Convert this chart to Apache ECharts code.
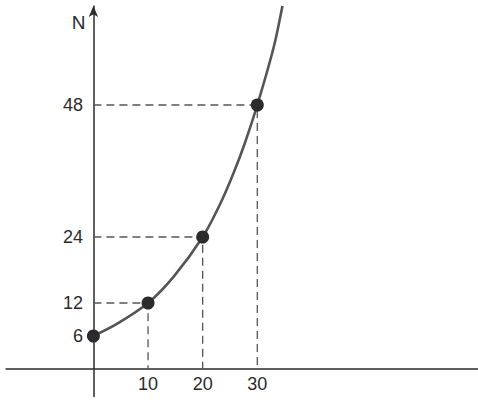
<!DOCTYPE html>
<html>
<head>
<meta charset="utf-8">
<script src="https://cdn.jsdelivr.net/npm/echarts@6/dist/echarts.min.js"></script>
<style>html,body{margin:0;padding:0;background:#fff}#c{width:478px;height:403px}</style>
</head>
<body>
<div id="c"></div>
<script>
// Data
var xTicks = [10, 20, 30];
var yTicks = [6, 12, 24, 48];
var pointX = [0, 10, 20, 30];
var pointN = [6, 12, 24, 48];
// curve positions (it leaves the top of the plot)
var curveX = [0, 4.3, 10, 14.7, 20, 23.2, 25.6, 27.7, 30, 33, 34.6];
var curveN = [6, 8.2, 12, 16.8, 24, 30, 35.5, 41, 48, 58.5, 66];

var chart = echarts.init(document.getElementById('c'), null, {renderer: 'svg'});
var ink = '#2b2b2b';
var font = '"Liberation Sans", Arial, Helvetica, sans-serif';

var series = [];
// dashed guide lines
for (var i = 0; i < pointX.length; i++) {
  if (pointX[i] === 0) continue;
  series.push({
    type: 'line',
    data: [[0, pointN[i]], [pointX[i], pointN[i]], [pointX[i], 0]],
    symbol: 'none',
    silent: true,
    lineStyle: {color: '#555', width: 1.3, type: [8, 5]},
    z: 1
  });
}
series.push({
  type: 'line',
  data: curveX.map(function (x, i) { return [x, curveN[i]]; }),
  smooth: 0.3,
  symbol: 'none',
  lineStyle: {color: '#555', width: 2.6},
  z: 2
});
series.push({
  type: 'scatter',
  data: pointX.map(function (x, i) { return [x, pointN[i]]; }),
  symbolSize: 13,
  itemStyle: {color: ink, opacity: 1},
  z: 3
});
// tick labels placed on the axes
series.push({
  type: 'scatter',
  data: xTicks.map(function (v) { return [v, 0]; }),
  symbolSize: 1,
  itemStyle: {color: 'rgba(0,0,0,0)', opacity: 1},
  silent: true,
  label: {show: true, position: 'bottom', distance: 5, color: ink, opacity: 1, fontSize: 18, fontFamily: font,
    formatter: function (p) { return String(p.value[0]); }}
});
series.push({
  type: 'scatter',
  data: yTicks.map(function (v) { return [0, v]; }),
  symbolSize: 1,
  itemStyle: {color: 'rgba(0,0,0,0)', opacity: 1},
  silent: true,
  label: {show: true, position: 'left', distance: 10, color: ink, opacity: 1, fontSize: 18, fontFamily: font,
    formatter: function (p) { return String(p.value[1]); }}
});

chart.setOption({
  animation: false,
  grid: {left: 6, width: 472, top: 6, height: 390.5, outerBoundsMode: 'none', containLabel: false},
  xAxis: {
    type: 'value', min: -16, max: 70.4,
    axisLine: {onZero: true, lineStyle: {color: ink, width: 1.5}},
    axisTick: {show: false},
    splitLine: {show: false},
    axisLabel: {show: false}
  },
  yAxis: {
    type: 'value', min: -5, max: 66,
    name: 'N', nameLocation: 'end', nameGap: -26,
    nameTextStyle: {color: ink, fontSize: 19, fontFamily: font, align: 'right', padding: [0, 8, 0, 0]},
    axisLine: {onZero: true, symbol: ['none', 'arrow'], symbolSize: [7, 11], lineStyle: {color: ink, width: 1.5}},
    axisTick: {show: false},
    splitLine: {show: false},
    axisLabel: {show: false}
  },
  series: series
});
</script>
</body>
</html>
